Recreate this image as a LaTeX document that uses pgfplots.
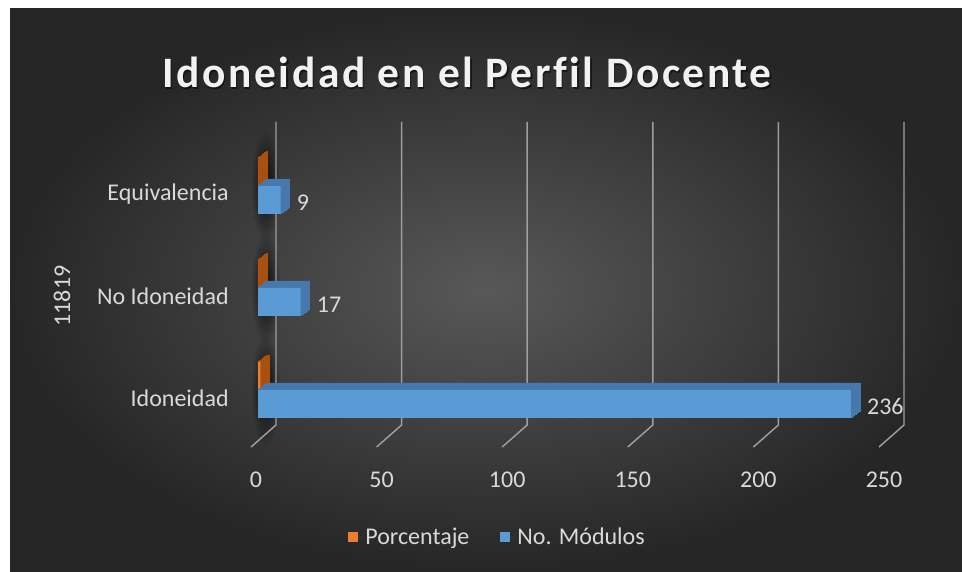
\documentclass[border=0pt]{standalone}
\usepackage{fontspec}
\setmainfont{Carlito}
\usepackage{pgfplots}
\usepackage{pgfplotstable}
\usetikzlibrary{fadings}
\pgfplotsset{compat=1.18}
\definecolor{bgdark}{HTML}{262626}
\definecolor{bgmid}{HTML}{585858}
\definecolor{titlec}{HTML}{F2F2F2}
\definecolor{labelc}{HTML}{D9D9D9}
\definecolor{gridc}{HTML}{9E9E9E}
\definecolor{bluefront}{HTML}{5B9BD5}
\definecolor{bluedepth}{HTML}{4677AD}
\definecolor{orangefront}{HTML}{ED7D31}
\definecolor{orangedepth}{HTML}{A9500F}
\tikzfading[name=softshadow, inner color=transparent!0, outer color=transparent!100]

\pgfplotstableread{
y modulos porcentaje
0 236 0.9008
1 17 0.0649
2 9 0.0344
}\datatable

\begin{document}
\begin{tikzpicture}
\fill[white] (0,0) rectangle (721.5pt,428.25pt);
\shade[inner color=bgmid, outer color=bgdark] (7.5pt,0) rectangle (721.5pt,421.5pt);
\node[text=black, opacity=0.5, anchor=base, font=\fontsize{32.6}{36}\selectfont\bfseries\addfontfeature{LetterSpace=6,Ligatures=NoCommon}] at (351.4pt,361.1pt) {Idoneidad en el Perfil Docente};
\node[text=titlec, anchor=base, font=\fontsize{32.6}{36}\selectfont\bfseries\addfontfeature{LetterSpace=6,Ligatures=NoCommon}] at (350.25pt,362.25pt) {Idoneidad en el Perfil Docente};
\begin{axis}[
  at={(192pt,94.5pt)}, anchor=south west,
  scale only axis, width=471pt, height=231pt,
  xmin=0, xmax=250, ymin=-0.54, ymax=2.48,
  clip=false,
  axis line style={draw=none},
  major tick length=0pt,
  xtick={0,50,100,150,200,250},
  ytick={0,1,2},
  yticklabels={Idoneidad,No Idoneidad,Equivalencia},
  /pgf/number format/assume math mode=true,
  xticklabel style={font=\fontsize{18}{20}\selectfont, text=labelc, anchor=north, inner sep=0pt, yshift=-20.25pt},
  yticklabel style={font=\fontsize{18}{20}\selectfont, text=labelc, anchor=east, inner sep=0pt, xshift=-20.25pt, yshift=-6pt},
  ylabel={11819},
  ylabel style={font=\fontsize{18}{20}\selectfont, text=labelc, at={(axis description cs:-0.309,0.484)}, anchor=center, rotate=0},
  xbar, bar width=21pt,
  legend columns=2,
  legend style={draw=none, fill=none, at={(axis description cs:0.385,-0.299)}, anchor=center,
    font=\fontsize{18}{20}\selectfont, text=labelc,
    /tikz/every even column/.append style={column sep=21pt}},
  legend image code/.code={\fill[#1] (0pt,-3.9pt) rectangle (7.8pt,3.9pt); \path (0pt,0pt) -- (11pt,0pt);},
]
\pgfplotsinvokeforeach{0,1,2}{
  \fill[black, opacity=0.8, path fading=softshadow] ([shift={(7pt,0pt)}]axis cs:0,#1) ellipse [x radius=11pt, y radius=42pt];
}
\pgfplotsinvokeforeach{0,50,100,150,200,250}{
  \draw[gridc, line width=1.1pt] ([shift={(-3.75pt,-1.5pt)}]axis cs:#1,-0.54) -- ([shift={(15pt,15pt)}]axis cs:#1,-0.54) -- ([shift={(15pt,11.25pt)}]axis cs:#1,2.48);
}
\pgfplotsinvokeforeach{1,...,24}{
  \addplot[forget plot, fill=orangedepth, draw=orangedepth, line width=0.5pt, bar shift=10.5pt, xshift=1.5pt+#1*0.28125pt, yshift=#1*0.21875pt] table[x=porcentaje, y=y] \datatable;
}
\addplot[fill=orangefront, draw=none, bar shift=10.5pt, xshift=1.5pt] table[x=porcentaje, y=y] \datatable;
\addlegendentry{Porcentaje}
\pgfplotsinvokeforeach{1,...,24}{
  \addplot[forget plot, fill=bluedepth, draw=bluedepth, line width=0.5pt, bar shift=-10.5pt, xshift=1.5pt+#1*0.28125pt, yshift=#1*0.21875pt] table[x=modulos, y=y] \datatable;
}
\addplot[fill=bluefront, draw=none, bar shift=-10.5pt, xshift=1.5pt,
  nodes near coords,
  nodes near coords style={font=\fontsize{18}{20}\selectfont, text=labelc, anchor=west, inner sep=0pt, xshift=12pt, yshift=-2pt}] table[x=modulos, y=y] \datatable;
\addlegendentry{No. Módulos}
\end{axis}
\end{tikzpicture}
\end{document}
